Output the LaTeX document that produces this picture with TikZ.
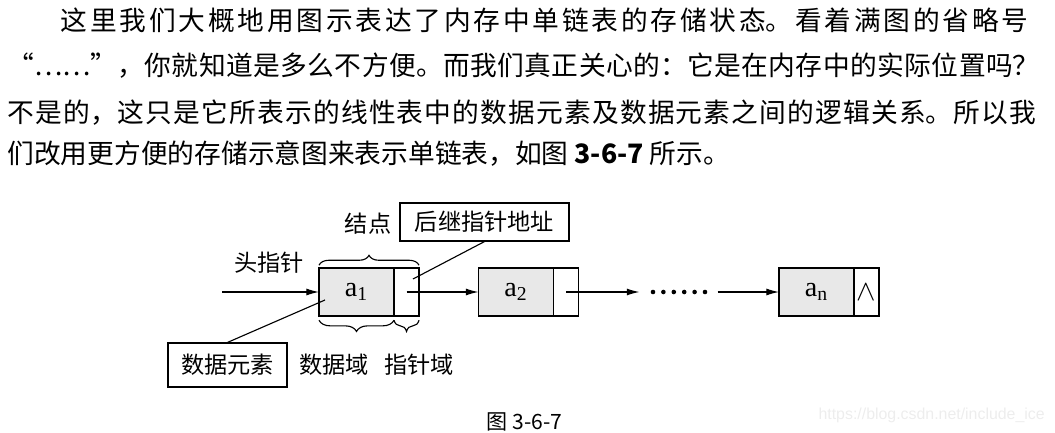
\documentclass[tikz,border=0pt]{standalone}
\usepackage{fontspec}
\setmainfont{Liberation Serif}
\newfontfamily\cjk{Noto Sans CJK SC}
\newfontfamily\wmfont{Liberation Sans}
\usetikzlibrary{arrows.meta,decorations.pathreplacing,positioning}
\XeTeXlinebreaklocale "zh"
\XeTeXlinebreakskip=0pt plus 8pt

\tikzset{
  datacell/.style={draw, fill=gray!18, minimum width=1.875cm, minimum height=1.2cm, inner sep=0pt, outer sep=0pt, font=\fontsize{20}{20}\selectfont},
  ptrcell/.style={draw, minimum width=0.625cm, minimum height=1.2cm, inner sep=0pt, outer sep=0pt},
  tag/.style={font=\cjk\fontsize{16.5}{18}\selectfont, inner sep=0pt},
  tagbox/.style={tag, draw, inner sep=0pt},
  link/.style={-{Latex[length=9pt,width=5pt]}},
  brc/.style={decorate, decoration={brace, amplitude=#1}},
  textline/.style={anchor=base west, inner sep=0pt, font=\cjk\fontsize{19}{22}\selectfont},
}

\begin{document}
\begin{tikzpicture}[x=0.025cm, y=-0.025cm, line width=0.8pt]
\useasboundingbox (0,0) rectangle (1055,433);
% paragraph
\node[textline, text width=24.525cm] (line1) at (60,31)
  {{\parfillskip=0pt\noindent 这里我们大概地用图示表达了内存中单链表的存储状态。看着满图的省略号\par}};
\node[textline, text width=25.85cm] (line2) at (7,76)
  {{\parfillskip=0pt\noindent “……”，你就知道是多么不方便。而我们真正关心的：它是在内存中的实际位置吗？\par}};
\node[textline, text width=25.85cm] (line3) at (7,122)
  {{\parfillskip=0pt\noindent 不是的，这只是它所表示的线性表中的数据元素及数据元素之间的逻辑关系。所以我\par}};
\node[textline] (line4) at (7,163) {们改用更方便的存储示意图来表示单链表，如图 \textbf{3-6-7} 所示。};

% linked list
\node[datacell] (a1) at (356.5,292) {a\textsubscript{1}};
\node[ptrcell, right=0pt of a1] (p1) {};
\node[datacell] (a2) at (516,292) {a\textsubscript{2}};
\node[ptrcell, right=0pt of a2] (p2) {};
\node[inner sep=0pt, minimum width=1.925cm, minimum height=0.3cm] (dots) at (678.5,292) {};
\foreach \i in {0,...,5}
  \fill (653+\i*10.4,292) circle (2.3);
\node[datacell] (an) at (816.5,292) {a\textsubscript{n}};
\node[ptrcell, right=0pt of an, font=\fontsize{20}{20}\selectfont] (pn) {$\wedge$};

\coordinate (head) at (222,292);
\draw[link] (head) -- (a1.west);
\draw[link] (p1.center) -- (a2.west);
\draw[link] (p2.center) -- (dots.west);
\draw[link] (dots.east) -- (an.west);

% labels
\node[tag] (head tag) at (269,263) {头指针};
\node[tag] (node tag) at (368,224) {结点};
\node[tagbox, minimum width=4.225cm, minimum height=0.95cm] (succ) at (484.5,222) {后继指针地址};
\node[tagbox, minimum width=2.975cm, minimum height=1.1cm] (elem) at (227.5,365) {数据元素};
\node[tag] (data tag) at (334,365) {数据域};
\node[tag] (ptr tag) at (419,365) {指针域};
\coordinate (succ end) at (413,279);
\coordinate (elem end) at (325,300);
\draw (succ.south) -- (succ end);
\draw (elem.north) -- (elem end);

% braces
\draw[brc=7pt] ([yshift=2pt]a1.north west) -- ([yshift=2pt]p1.north east);
\draw[brc=8pt] ([yshift=-3pt]a1.south east) -- ([yshift=-3pt]a1.south west);
\draw[brc=8pt] ([yshift=-3pt]p1.south east) -- ([yshift=-3pt]p1.south west);

% caption and mark
\node[anchor=base west, inner sep=0pt, font=\cjk\fontsize{15}{18}\selectfont] (caption) at (486,429) {图 3-6-7};
\node[anchor=west, inner sep=0pt, text=gray!14, font=\wmfont\fontsize{11.3}{13}\selectfont] (mark) at (818,415) {https://blog.csdn.net/include\_ice};
\end{tikzpicture}
\end{document}
